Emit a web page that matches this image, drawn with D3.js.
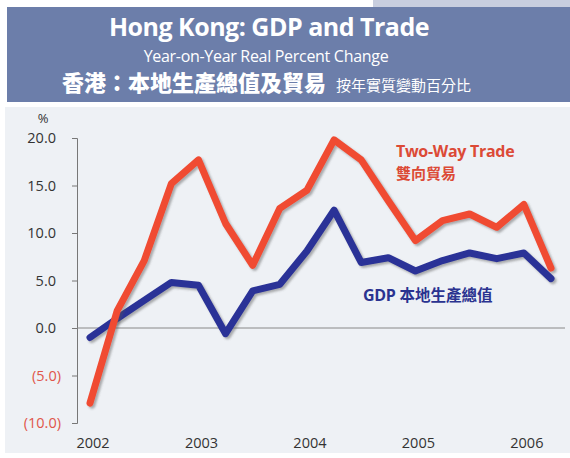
<!DOCTYPE html>
<html>
<head>
<meta charset="utf-8">
<script src="https://cdn.jsdelivr.net/npm/d3@7"></script>
<style>
  body { margin: 0; background: #ffffff; }
  svg { display: block; }
</style>
</head>
<body>
<svg id="chart" width="570" height="458"></svg>
<script>
// quarterly year-on-year real % change, 2002 Q1 .. 2006 Q2
const quarters = ["2002Q1","2002Q2","2002Q3","2002Q4","2003Q1","2003Q2","2003Q3","2003Q4",
                  "2004Q1","2004Q2","2004Q3","2004Q4","2005Q1","2005Q2","2005Q3","2005Q4",
                  "2006Q1","2006Q2"];
const tradeValues = [-7.9, 1.8, 7.1, 15.2, 17.7, 11.0, 6.6, 12.6, 14.5, 19.8, 17.7, 13.4, 9.2, 11.3, 12.0, 10.6, 13.0, 6.3];
const gdpValues = [-1.0, 1.0, 2.9, 4.8, 4.5, -0.6, 3.9, 4.6, 8.1, 12.4, 6.9, 7.4, 6.0, 7.1, 7.9, 7.3, 7.9, 5.2];
const yearLabels = [2002, 2003, 2004, 2005, 2006];
const yTicks = [-10, -5, 0, 5, 10, 15, 20];

const svg = d3.select("#chart");
const latin = "'Open Sans', 'Noto Sans', sans-serif";
const cjk = "'Noto Sans CJK TC', 'Noto Sans CJK SC', sans-serif";

// header band
svg.append("rect").attr("x", 373).attr("y", 0).attr("width", 197).attr("height", 8).attr("fill", "#c8cedf");
svg.append("rect").attr("x", 7).attr("y", 7).attr("width", 563).attr("height", 95).attr("fill", "#6c7eaa");

svg.append("text").attr("x", 269).attr("y", 36).attr("text-anchor", "middle")
  .attr("font-family", latin).attr("font-weight", 700).attr("font-size", 25)
  .attr("letter-spacing", -0.5).attr("fill", "#fff").text("Hong Kong: GDP and Trade");
svg.append("text").attr("x", 266).attr("y", 62).attr("text-anchor", "middle")
  .attr("font-family", latin).attr("font-size", 16).attr("letter-spacing", -0.3)
  .attr("fill", "#fff").text("Year-on-Year Real Percent Change");
const zh = svg.append("text").attr("x", 62).attr("y", 91).attr("fill", "#fff").attr("font-family", cjk);
zh.append("tspan").attr("font-weight", 900).attr("font-size", 22).text("香港：本地生產總值及貿易");
zh.append("tspan").attr("dx", 10).attr("font-size", 15).text("按年實質變動百分比");

// plot background
svg.append("rect").attr("x", 5).attr("y", 107).attr("width", 565).attr("height", 346).attr("fill", "#eef1f5");

const x = d3.scaleLinear().domain([0, quarters.length - 1]).range([90, 551]);
const y = d3.scaleLinear().domain([-10, 20]).range([423, 138]);

// y axis
const yAxis = svg.append("g").attr("transform", "translate(77,0)")
  .call(d3.axisLeft(y).tickValues(yTicks).tickSize(5).tickPadding(0)
    .tickFormat(d => d < 0 ? "(" + d3.format(".1f")(-d) + ")" : d3.format(".1f")(d)));
yAxis.select(".domain").attr("stroke", "#777");
yAxis.selectAll(".tick line").attr("stroke", "#777");
yAxis.selectAll(".tick text")
  .attr("x", d => d < 0 ? -16 : -21)
  .attr("font-family", latin).attr("font-size", 14.5)
  .attr("fill", d => d < 0 ? "#e0564a" : "#333");

svg.append("text").attr("x", 43).attr("y", 123).attr("text-anchor", "middle")
  .attr("font-family", latin).attr("font-size", 13).attr("fill", "#333").text("%");

// zero line
svg.append("line").attr("x1", 77).attr("x2", 565).attr("y1", y(0)).attr("y2", y(0))
  .attr("stroke", "#888").attr("stroke-width", 1);

// x axis labels at Q1 of each year
svg.append("g").selectAll("text").data(yearLabels).join("text")
  .attr("x", d => x(quarters.indexOf(d + "Q1")) + 3)
  .attr("y", 448).attr("text-anchor", "middle")
  .attr("font-family", latin).attr("font-size", 14.5).attr("fill", "#333")
  .text(d => d);

// lines with soft shadow
const defs = svg.append("defs");
const f = defs.append("filter").attr("id", "shadow").attr("x", "-10%").attr("y", "-10%")
  .attr("width", "120%").attr("height", "120%");
f.append("feDropShadow").attr("dx", 2).attr("dy", 2).attr("stdDeviation", 1.2)
  .attr("flood-color", "#555").attr("flood-opacity", 0.45);

const line = d3.line().x((d, i) => x(i)).y(d => y(d));

svg.append("path").datum(gdpValues).attr("d", line).attr("fill", "none")
  .attr("stroke", "#2a3397").attr("stroke-width", 7).attr("stroke-linejoin", "round")
  .attr("stroke-linecap", "round").attr("filter", "url(#shadow)");
svg.append("path").datum(tradeValues).attr("d", line).attr("fill", "none")
  .attr("stroke", "#f04b32").attr("stroke-width", 7).attr("stroke-linejoin", "round")
  .attr("stroke-linecap", "round").attr("filter", "url(#shadow)");

// series labels
svg.append("text").attr("x", 396).attr("y", 157).attr("font-family", latin)
  .attr("font-weight", 700).attr("font-size", 16).attr("letter-spacing", -0.3)
  .attr("fill", "#dc4a36").text("Two-Way Trade");
svg.append("text").attr("x", 396).attr("y", 179).attr("font-family", cjk)
  .attr("font-weight", 700).attr("font-size", 15).attr("fill", "#dc4a36").text("雙向貿易");

const gl = svg.append("text").attr("x", 363).attr("y", 301).attr("fill", "#2a3390")
  .attr("font-weight", 700).attr("font-size", 16);
gl.append("tspan").attr("font-family", latin).attr("letter-spacing", -0.3).text("GDP ");
gl.append("tspan").attr("font-family", cjk).attr("font-size", 15.5).text("本地生產總值");
</script>
</body>
</html>
